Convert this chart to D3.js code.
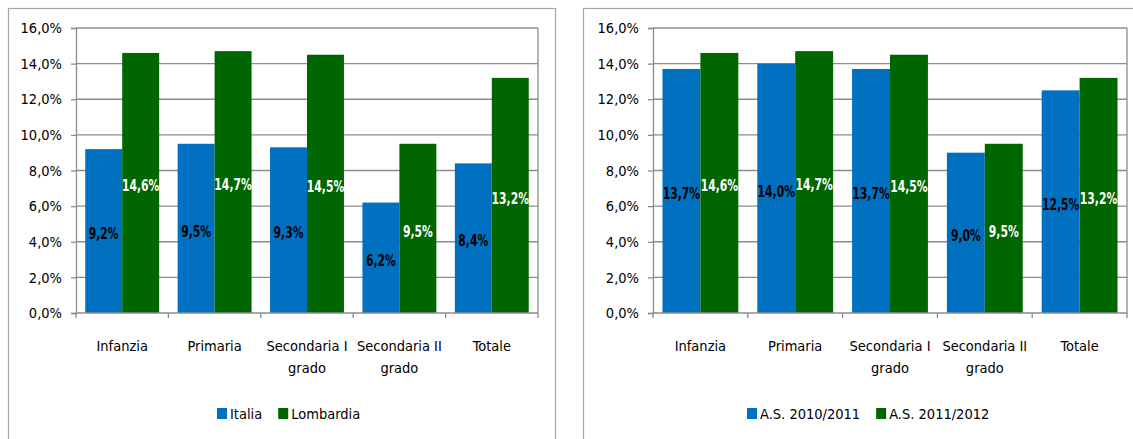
<!DOCTYPE html>
<html><head><meta charset="utf-8">
<script src="https://cdn.jsdelivr.net/npm/d3@7"></script>
<style>
html,body{margin:0;padding:0;background:#fff;}
svg{display:block;}
text{font-family:"Liberation Sans Narrow","DejaVu Sans Condensed","Open Sans",sans-serif;}
</style></head>
<body>
<svg id="c" width="1133" height="439"></svg>
<script>
const categories = ["Infanzia","Primaria","Secondaria I grado","Secondaria II grado","Totale"];
const yTicks = [0,2,4,6,8,10,12,14,16];

const leftSeriesNames = ["Italia","Lombardia"];
const leftItalia = [9.2, 9.5, 9.3, 6.2, 8.4];
const leftLombardia = [14.6, 14.7, 14.5, 9.5, 13.2];

const rightSeriesNames = ["A.S. 2010/2011","A.S. 2011/2012"];
const right2010 = [13.7, 14.0, 13.7, 9.0, 12.5];
const right2011 = [14.6, 14.7, 14.5, 9.5, 13.2];

const colors = ["#0070C0","#006600"];
const labelColors = ["#000","#fff"];

const locale = d3.formatLocale({decimal:",",thousands:".",grouping:[3],currency:["€",""]});
const f1 = locale.format(".1f");
const pct = d => f1(d) + "%";

const svg = d3.select("#c");

function drawChart(cfg, names, series){
  const g = svg.append("g");
  g.append("rect").attr("x",cfg.fx+0.5).attr("y",8.5).attr("width",cfg.fw).attr("height",460)
    .attr("fill","none").attr("stroke","#a6a6a6").attr("stroke-width",1.2);

  const y = d3.scaleLinear().domain([0,16]).range([cfg.bottom, cfg.top]);
  const x = d3.scaleBand().domain(categories).range([cfg.left, cfg.right]).paddingInner(0.2).paddingOuter(0.1);
  const xs = d3.scaleBand().domain(d3.range(series.length)).range([0, x.bandwidth()]);

  g.append("g").selectAll("line").data(yTicks.filter(t=>t>0)).join("line")
    .attr("x1",cfg.left).attr("x2",cfg.right)
    .attr("y1",d=>y(d)).attr("y2",d=>y(d))
    .attr("stroke","#8c8c8c").attr("stroke-width",1.3);
  g.append("line").attr("x1",cfg.right).attr("x2",cfg.right).attr("y1",cfg.top).attr("y2",cfg.bottom)
    .attr("stroke","#8c8c8c").attr("stroke-width",1.3);

  series.forEach((vals, si) => {
    g.append("g").selectAll("rect").data(vals).join("rect")
      .attr("x",(d,i)=>x(categories[i]) + xs(si))
      .attr("width",xs.bandwidth())
      .attr("y",d=>y(d))
      .attr("height",d=>y(0)-y(d))
      .attr("fill",colors[si]);
  });
  series.forEach((vals, si) => {
    g.append("g").selectAll("text").data(vals).join("text")
      .attr("transform",(d,i)=>`translate(${x(categories[i]) + xs(si) + xs.bandwidth()/2},${(y(d)+y(0))/2 + 3}) scale(0.8,1)`)
      .attr("dy","0.35em")
      .attr("text-anchor","middle")
      .attr("font-size","15px").attr("font-weight","bold")
      .attr("fill",labelColors[si])
      .text(d=>pct(d));
  });

  const ya = g.append("g").attr("transform",`translate(${cfg.left},0)`)
    .call(d3.axisLeft(y).tickValues(yTicks).tickFormat(pct).tickSize(5).tickPadding(9));
  ya.select(".domain").attr("stroke","#8c8c8c").attr("stroke-width",1.3);
  ya.selectAll(".tick line").attr("stroke","#8c8c8c").attr("stroke-width",1.3);
  ya.selectAll(".tick text").attr("font-size","14.5px").attr("fill","#000")
    .attr("font-family",'"Liberation Sans Narrow","DejaVu Sans Condensed","Open Sans",sans-serif');

  const step = (cfg.right-cfg.left)/categories.length;
  g.append("line").attr("x1",cfg.left).attr("x2",cfg.right).attr("y1",cfg.bottom).attr("y2",cfg.bottom)
    .attr("stroke","#8c8c8c").attr("stroke-width",1.3);
  g.append("g").selectAll("line").data(d3.range(categories.length+1)).join("line")
    .attr("x1",i=>cfg.left+i*step).attr("x2",i=>cfg.left+i*step)
    .attr("y1",cfg.bottom).attr("y2",cfg.bottom+5)
    .attr("stroke","#8c8c8c").attr("stroke-width",1.3);

  const cl = g.append("g").selectAll("text").data(categories).join("text")
    .attr("x",d=>x(d)+x.bandwidth()/2)
    .attr("y",cfg.bottom+38)
    .attr("text-anchor","middle").attr("font-size","14.5px").attr("fill","#000");
  cl.each(function(d){
    const parts = d.indexOf(" grado")>0 ? [d.replace(" grado",""),"grado"] : [d];
    d3.select(this).selectAll("tspan").data(parts).join("tspan")
      .attr("x",x(d)+x.bandwidth()/2).attr("dy",(p,i)=>i===0?0:22).text(p=>p);
  });

  const lg = g.append("g");
  let lx = cfg.legendX;
  names.forEach((n,i)=>{
    lg.append("rect").attr("x",lx).attr("y",408).attr("width",10).attr("height",11).attr("fill",colors[i]);
    const t = lg.append("text").attr("x",lx+13).attr("y",419).attr("font-size","14.5px").attr("fill","#000").text(n);
    lx += 13 + t.node().getComputedTextLength() + 16;
  });
}

drawChart({fx:8, fw:547, left:76, right:538, top:28, bottom:313, legendX:217}, leftSeriesNames, [leftItalia, leftLombardia]);
drawChart({fx:583, fw:600, left:653, right:1127, top:28, bottom:313, legendX:747}, rightSeriesNames, [right2010, right2011]);
</script>
</body></html>
